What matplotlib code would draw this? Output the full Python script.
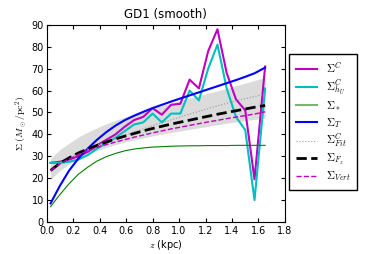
import numpy as np
import matplotlib
matplotlib.use('Agg')
import matplotlib.pyplot as plt

plt.rcParams['mathtext.fontset'] = 'cm'
plt.rcParams['font.family'] = 'DejaVu Sans'

# z grid of the binned measurements (kpc)
z = [0.03, 0.10, 0.17, 0.24, 0.31, 0.38, 0.45, 0.52, 0.59, 0.66, 0.73, 0.80,
     0.87, 0.94, 1.01, 1.08, 1.15, 1.22, 1.29, 1.36, 1.43, 1.50, 1.57, 1.65]

sigma_c = [27.0, 27.5, 28.5, 30.0, 32.0, 35.0, 37.5, 40.0, 43.5, 46.5, 48.0, 52.0,
           49.0, 53.5, 54.0, 65.0, 61.0, 78.0, 88.0, 68.0, 56.0, 51.0, 19.5, 71.0]
sigma_hu = [27.0, 27.0, 27.5, 28.5, 30.5, 33.5, 36.0, 38.5, 41.5, 44.5, 45.5, 49.5,
            45.5, 49.5, 49.5, 60.0, 55.5, 70.0, 81.0, 61.0, 48.0, 42.0, 10.0, 61.0]
sigma_star = [7.0, 12.5, 17.5, 21.8, 25.0, 27.8, 29.8, 31.3, 32.5, 33.3, 33.8, 34.2,
              34.4, 34.6, 34.7, 34.8, 34.8, 34.9, 34.9, 34.9, 35.0, 35.0, 35.0, 35.0]
sigma_t = [8.5, 16.5, 23.5, 29.0, 33.5, 37.5, 41.0, 44.0, 46.5, 48.5, 50.3, 52.0,
           53.5, 55.0, 56.4, 57.8, 59.2, 60.6, 62.0, 63.4, 64.8, 66.3, 67.9, 70.5]
sigma_fit = [24.5, 27.0, 29.5, 31.5, 33.3, 35.0, 36.5, 38.0, 39.5, 41.0, 42.5, 44.0,
             45.3, 46.6, 48.0, 49.3, 50.5, 51.8, 53.0, 54.2, 55.3, 56.3, 57.3, 58.3]
sigma_fz = [23.5, 26.8, 29.3, 31.5, 33.3, 35.0, 36.5, 37.9, 39.2, 40.4, 41.6, 42.7,
            43.7, 44.7, 45.6, 46.5, 47.4, 48.3, 49.2, 50.0, 50.8, 51.6, 52.4, 53.2]
sigma_vert = [23.5, 26.5, 28.8, 30.8, 32.5, 34.0, 35.3, 36.5, 37.6, 38.7, 39.7, 40.7,
              41.6, 42.5, 43.3, 44.1, 44.9, 45.7, 46.4, 47.2, 47.9, 48.6, 49.3, 50.3]
band_lo = [19.5, 23.5, 26.5, 28.8, 30.8, 32.5, 34.0, 35.3, 36.5, 37.5, 38.4, 39.3,
           40.1, 40.9, 41.6, 42.3, 43.0, 43.7, 44.4, 45.1, 45.7, 46.3, 46.9, 47.5]
band_hi = [29.0, 33.0, 36.0, 38.8, 41.0, 43.0, 44.8, 46.4, 47.9, 49.3, 50.6, 51.9,
           53.1, 54.3, 55.5, 56.6, 57.7, 58.8, 59.9, 61.0, 62.2, 63.4, 64.6, 66.0]

fig = plt.figure(figsize=(3.82, 2.54), dpi=100)
ax = fig.add_axes([0.122, 0.126, 0.624, 0.776])

ax.fill_between(z, band_lo, band_hi, color='0.86', lw=0)
ax.plot(z, sigma_c, color='m', lw=1.5, label=r'$\Sigma^C$')
ax.plot(z, sigma_hu, color='c', lw=1.5, label=r'$\Sigma^C_{h_U}$')
ax.plot(z, sigma_star, color='g', lw=0.8, label=r'$\Sigma_*$')
ax.plot(z, sigma_t, color='b', lw=1.5, label=r'$\Sigma_T$')
ax.plot(z, sigma_fit, color='0.6', lw=0.8, ls=':', label=r'$\Sigma^C_{Fit}$')
ax.plot(z, sigma_fz, color='k', lw=2, ls='--', label=r'$\Sigma_{F_z}$')
ax.plot(z, sigma_vert, color='m', lw=1, ls='--', label=r'$\Sigma_{Vert}$')

ax.set_xlim(0, 1.8)
ax.set_ylim(0, 90)
ax.set_xticks(np.arange(0, 1.81, 0.2))
ax.set_yticks(np.arange(0, 91, 10))
ax.tick_params(direction='in', top=True, right=True, labelsize=7, length=3, pad=2)
ax.tick_params(axis='x', pad=3)
ax.set_xlabel(r'$z$ (kpc)', fontsize=7, labelpad=1)
ax.set_ylabel(r'$\Sigma\ (M_\odot/{\rm pc}^2)$', fontsize=7, labelpad=2)
ax.set_title('GD1 (smooth)', fontsize=8.5, pad=5)

leg = ax.legend(loc='upper left', bbox_to_anchor=(1.017, 0.853), borderaxespad=0,
                fontsize=8, labelspacing=0.22, handlelength=1.9, borderpad=0.6,
                fancybox=False, framealpha=1, edgecolor='k')
leg.get_frame().set_linewidth(1)
# legend line for the stellar term is drawn wider and lighter in the original
leg.get_lines()[2].set_linewidth(1.5)
leg.get_lines()[2].set_alpha(0.55)

fig.savefig('out.png', dpi=100)
